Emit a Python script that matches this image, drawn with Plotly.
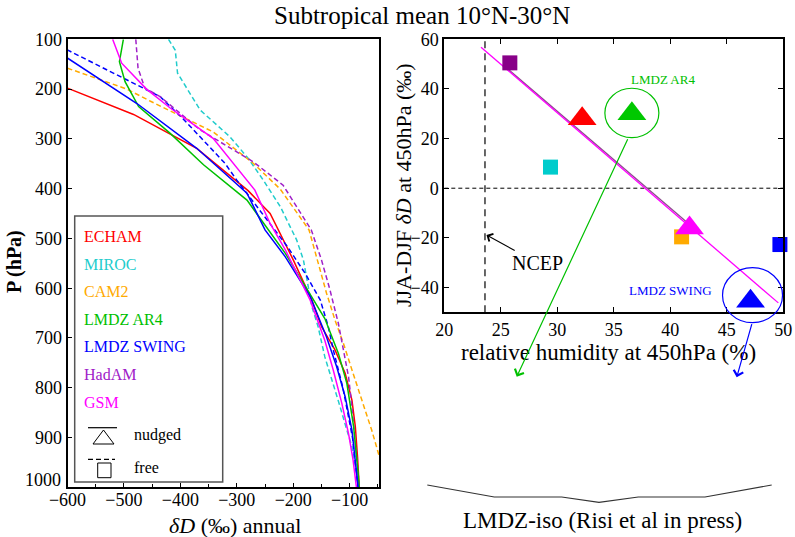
import plotly.graph_objects as go

W, H = 795, 537
FONT = "Liberation Serif"

# ---------------- left panel: annual-mean dD profiles ----------------
echam_p = [198, 251, 319, 404, 450, 503, 543, 624, 677, 724, 771, 825, 878, 940, 1000]
echam_dd = [-600, -483, -371, -280, -241, -218, -200, -167, -150, -126, -108, -96, -90, -86, -83]

miroc_p = [100, 122, 168, 242, 296, 339, 383, 436, 503, 543, 637, 677, 738, 791, 838, 885, 918, 972, 1000]
miroc_dd = [-421, -409, -405, -365, -312, -280, -253, -223, -194, -182, -167, -156, -144, -129, -117, -105, -96, -88, -86]

cam2_p = [158, 200, 225, 245, 286, 349, 401, 483, 540, 610, 664, 711, 771, 831, 885, 932, 960]
cam2_dd = [-600, -495, -452, -415, -342, -271, -223, -172, -158, -141, -126, -111, -94, -76, -61, -49, -42]

ar4_p = [100, 145, 185, 235, 289, 352, 423, 530, 661, 731, 791, 878, 972, 1000]
ar4_dd = [-501, -508, -498, -474, -418, -359, -282, -214, -144, -120, -105, -93, -85, -83]

swing_p = [137, 229, 319, 409, 483, 537, 617, 698, 758, 818, 885, 972, 1000]
swing_dd = [-601, -477, -371, -282, -250, -214, -170, -141, -123, -108, -96, -88, -85]

swing_free_p = [121, 178, 215, 260, 316, 349, 383, 436, 517, 570, 624, 677, 724, 800, 900, 1000]
swing_free_dd = [-601, -501, -436, -395, -348, -321, -300, -265, -210, -179, -152, -138, -129, -112, -95, -85]

hadam_p = [100, 158, 198, 215, 282, 346, 393, 483, 543, 603, 671, 724, 778, 838, 905, 972, 1000]
hadam_dd = [-479, -475, -463, -436, -365, -271, -218, -168, -150, -135, -120, -111, -102, -96, -90, -85, -83]

gsm_p = [100, 148, 200, 238, 299, 352, 403, 470, 523, 624, 705, 765, 831, 892, 945, 1000]
gsm_dd = [-520, -504, -460, -418, -342, -304, -268, -241, -214, -170, -144, -129, -114, -102, -94, -88]

pressure_ticks = [100, 200, 300, 400, 500, 600, 700, 800, 900, 1000]
dd_ticks = [-600, -500, -400, -300, -200, -100]
rh_ticks = [20, 25, 30, 35, 40, 45, 50]
seas_ticks = [-40, -20, 0, 20, 40, 60]

models = ["ECHAM", "MIROC", "CAM2", "LMDZ AR4", "LMDZ SWING", "HadAM", "GSM"]
line_colors = {
    "ECHAM": "#ff0000", "MIROC": "#22cccc", "CAM2": "#ffaa00",
    "LMDZ AR4": "#00c000", "LMDZ SWING": "#0000ff", "HadAM": "#a020c8",
    "GSM": "#ff00ff",
}
profiles = [
    ("ECHAM", echam_p, echam_dd, "solid"),
    ("MIROC", miroc_p, miroc_dd, "dash"),
    ("CAM2", cam2_p, cam2_dd, "dash"),
    ("LMDZ SWING", swing_free_p, swing_free_dd, "dash"),
    ("HadAM", hadam_p, hadam_dd, "dash"),
    ("LMDZ AR4", ar4_p, ar4_dd, "solid"),
    ("LMDZ SWING", swing_p, swing_dd, "solid"),
    ("GSM", gsm_p, gsm_dd, "solid"),
]

# ---------------- right panel: seasonality vs humidity ----------------
pt_model = ["HadAM", "MIROC", "CAM2", "LMDZ SWING", "ECHAM", "LMDZ AR4", "GSM", "LMDZ SWING"]
pt_rh = [25.8, 29.4, 41.0, 49.7, 32.2, 36.6, 41.7, 47.1]
pt_dd = [50.5, 8.5, -19.6, -22.7, 28.0, 30.0, -16.0, -45.5]
pt_kind = ["free", "free", "free", "free", "nudged", "nudged", "nudged", "nudged"]
pt_colors = {
    "HadAM": "#880088", "MIROC": "#00cccc", "CAM2": "#ffaa00",
    "LMDZ SWING": "#0000ff", "ECHAM": "#ff0000", "LMDZ AR4": "#00c800",
    "GSM": "#ff00ff",
}

fit_rh = [23.25, 49.56]
fit_dd = [56.8, -46.2]
fit2_rh = [25.4, 41.6]
fit2_dd = [48.9, -14.2]

ncep_rh = 23.6

# ---------------- geometry (pixels -> paper) ----------------
L_X0, L_X1, L_Y0, L_Y1 = 67.5, 379.3, 39.3, 487.3
R_X0, R_X1, R_Y0, R_Y1 = 444.3, 783.3, 39.3, 312.3
L_XR = [-600, -47.5]
R_XR, R_YR = [20, 50], [-50, 60]


def fx(px):
    return px / W


def fy(py):
    return 1 - py / H


def r_px(x, y):
    """Right-panel data coordinates to pixel position."""
    px = R_X0 + (x - R_XR[0]) / (R_XR[1] - R_XR[0]) * (R_X1 - R_X0)
    py = R_Y0 + (R_YR[1] - y) / (R_YR[1] - R_YR[0]) * (R_Y1 - R_Y0)
    return px, py


fig = go.Figure()

for name, p, dd, dash in profiles:
    fig.add_trace(go.Scatter(
        x=dd, y=p, mode="lines", xaxis="x", yaxis="y",
        line=dict(color=line_colors[name], width=1.5,
                  dash="5px,3px" if dash == "dash" else "solid"),
        showlegend=False, hoverinfo="skip"))

# reference lines
fig.add_trace(go.Scatter(x=[ncep_rh, ncep_rh], y=R_YR, mode="lines", xaxis="x2", yaxis="y2",
                         line=dict(color="black", width=1.2, dash="7px,5px"),
                         showlegend=False, hoverinfo="skip"))
fig.add_trace(go.Scatter(x=R_XR, y=[0, 0], mode="lines", xaxis="x2", yaxis="y2",
                         line=dict(color="black", width=1, dash="4px,3px"),
                         showlegend=False, hoverinfo="skip"))
fig.add_trace(go.Scatter(x=fit2_rh, y=fit2_dd, mode="lines", xaxis="x2", yaxis="y2",
                         line=dict(color="#8c4a8c", width=1.2),
                         showlegend=False, hoverinfo="skip"))
fig.add_trace(go.Scatter(x=fit_rh, y=fit_dd, mode="lines", xaxis="x2", yaxis="y2",
                         line=dict(color="#ff00ff", width=1.3),
                         showlegend=False, hoverinfo="skip"))

for kind, sym, size in [("free", "square", 15), ("nudged", "triangle-up", 25)]:
    idx = [i for i, k in enumerate(pt_kind) if k == kind]
    fig.add_trace(go.Scatter(
        x=[pt_rh[i] for i in idx], y=[pt_dd[i] for i in idx],
        mode="markers", xaxis="x2", yaxis="y2", cliponaxis=False,
        marker=dict(symbol=sym, size=size, line=dict(width=0),
                    color=[pt_colors[pt_model[i]] for i in idx]),
        showlegend=False, hoverinfo="skip"))

shapes = []
annotations = []


def text(px, py, s, size=18, color="black", xanchor="center", angle=0, yanchor="middle"):
    annotations.append(dict(x=fx(px), y=fy(py), xref="paper", yref="paper", text=s,
                            showarrow=False, xanchor=xanchor, yanchor=yanchor,
                            textangle=angle, font=dict(family=FONT, size=size, color=color)))


# title and axis titles
text(421.7, 16, "Subtropical mean 10°N-30°N", size=25)
text(235, 525, "<i>δD</i> (‰) annual", size=22)
text(14, 262, "<b>P (hPa)</b>", size=20, angle=-90)
text(608.3, 352, "relative humidity at 450hPa (%)", size=23)
text(403, 185, "JJA-DJF <i>δD</i> at 450hPa (‰)", size=22, angle=-90)

# bottom pressure label sits slightly above the corner, clear of the x labels
text(63, 480, str(pressure_ticks[-1]), size=18, xanchor="right")

# legend box for the profiles
shapes.append(dict(type="rect", xref="paper", yref="paper",
                   x0=fx(74.7), x1=fx(222.7), y0=fy(482), y1=fy(216),
                   line=dict(color="#555555", width=1.5), fillcolor="white", layer="above"))
for i, m in enumerate(models):
    text(81.7, 236.5 + i * 27.6, m, size=16, color=line_colors[m], xanchor="left")
shapes.append(dict(type="line", xref="paper", yref="paper", x0=fx(88), x1=fx(117),
                   y0=fy(427.7), y1=fy(427.7), line=dict(color="black", width=1.2)))
shapes.append(dict(type="path", xref="paper", yref="paper",
                   path="M %f,%f L %f,%f L %f,%f Z" % (fx(93), fy(444), fx(114), fy(444), fx(103.5), fy(430)),
                   line=dict(color="black", width=1)))
shapes.append(dict(type="line", xref="paper", yref="paper", x0=fx(88), x1=fx(115),
                   y0=fy(459.3), y1=fy(459.3), line=dict(color="black", width=1.2, dash="5px,3px")))
shapes.append(dict(type="rect", xref="paper", yref="paper", x0=fx(97.7), x1=fx(111),
                   y0=fy(477.7), y1=fy(463), line=dict(color="black", width=1)))
text(131.7, 435, "nudged", size=16, xanchor="left")
text(131.7, 467, "free", size=16, xanchor="left")

# ellipses highlighting the two LMDZ configurations
g_cx, g_cy = r_px(pt_rh[5], pt_dd[5])
b_cx, b_cy = r_px(pt_rh[7], pt_dd[7])
g_cy -= 0.8
b_cy -= 6.0
b_cx += 2.0
shapes.append(dict(type="circle", xref="paper", yref="paper",
                   x0=fx(g_cx - 27), x1=fx(g_cx + 27), y0=fy(g_cy + 24.7), y1=fy(g_cy - 24.7),
                   line=dict(color="#00c000", width=1.2)))
shapes.append(dict(type="circle", xref="paper", yref="paper",
                   x0=fx(b_cx - 30), x1=fx(b_cx + 30), y0=fy(b_cy + 27.5), y1=fy(b_cy - 27.5),
                   line=dict(color="#0000ff", width=1.2)))
text(663.3, 79.3, "LMDZ AR4", size=13, color="#00c000")
text(670, 290, "LMDZ SWING", size=13, color="#0000ff")

# arrows pointing to the LMDZ profiles
for tail, tip, col in [((g_cx - 3.5, g_cy + 24.7), (516.7, 376.7), "#00c000"),
                       ((b_cx - 0.3, b_cy + 27.5), (736.7, 377.3), "#0000ff")]:
    annotations.append(dict(x=fx(tip[0]), y=fy(tip[1]), xref="paper", yref="paper",
                            ax=tail[0] - tip[0], ay=tail[1] - tip[1], axref="pixel", ayref="pixel",
                            text="", showarrow=True, arrowhead=4, arrowsize=1.6,
                            arrowwidth=1.2, arrowcolor=col))

# NCEP label
ncep_px, _ = r_px(ncep_rh, 0)
annotations.append(dict(x=fx(ncep_px + 1.5), y=fy(235), xref="paper", yref="paper",
                        ax=51, ay=28, axref="pixel", ayref="pixel",
                        text="NCEP", showarrow=True, arrowhead=4, arrowsize=1.5,
                        arrowwidth=1.1, arrowcolor="black",
                        font=dict(family=FONT, size=20, color="black")))

# bracket under the right panel
brace = [(427.3, 485), (494.3, 497), (561.7, 497), (599, 502.3), (638.3, 497), (705, 497), (771.7, 485)]
shapes.append(dict(type="path", xref="paper", yref="paper",
                   path="M " + " L ".join("%f,%f" % (fx(a), fy(b)) for a, b in brace),
                   line=dict(color="#333333", width=1.2)))
text(602.7, 520, "LMDZ-iso (Risi et al in press)", size=23)

axis_common = dict(showline=True, linecolor="black", linewidth=2, showgrid=False,
                   zeroline=False, ticks="inside", tickcolor="black", automargin=False,
                   tickfont=dict(family=FONT, size=18, color="black"))

fig.update_layout(
    width=W, height=H, margin=dict(l=0, r=0, t=0, b=0, autoexpand=False),
    paper_bgcolor="white", plot_bgcolor="white",
    shapes=shapes, annotations=annotations,
    xaxis=dict(domain=[fx(L_X0), fx(L_X1)], range=L_XR, anchor="y",
               tickvals=dd_ticks, ticklen=4, mirror=True,
               ticklabelstandoff=-5,
               minor=dict(dtick=50, ticks="inside", ticklen=3, tickcolor="black"),
               **axis_common),
    yaxis=dict(domain=[fy(L_Y1), fy(L_Y0)], range=[1000, 100], anchor="x",
               tickvals=pressure_ticks,
               ticktext=[str(v) for v in pressure_ticks[:-1]] + [""],
               ticklen=4, mirror=True,
               **axis_common),
    xaxis2=dict(domain=[fx(R_X0), fx(R_X1)], range=R_XR, anchor="y2",
                tickvals=rh_ticks, ticklen=5, mirror="ticks",
                **axis_common),
    yaxis2=dict(domain=[fy(R_Y1), fy(R_Y0)], range=R_YR, anchor="x2",
                tickvals=seas_ticks, ticklen=5, mirror="ticks",
                **axis_common),
)

fig.write_html("out.html")
